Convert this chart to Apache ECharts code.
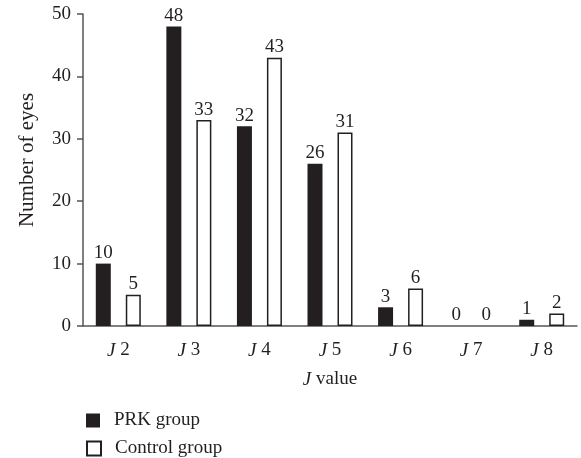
<!DOCTYPE html>
<html>
<head>
<meta charset="utf-8">
<script src="https://cdn.jsdelivr.net/npm/echarts@6/dist/echarts.min.js"></script>
<style>html,body{margin:0;padding:0;background:#fff}#c{width:581px;height:458px}</style>
</head>
<body>
<div id="c"></div>
<script>
var categories = ['2', '3', '4', '5', '6', '7', '8'];
var prkValues = [10, 48, 32, 26, 3, 0, 1];
var controlValues = [5, 33, 43, 31, 6, 0, 2];
var yTicks = [0, 10, 20, 30, 40, 50];

var FONT = '"Liberation Serif", "DejaVu Serif", serif';
var INK = '#231f20';
var FS = 19;
function items(arr) {
  return arr.map(function (v) {
    return v === 0 ? {value: v, itemStyle: {borderWidth: 0, color: 'rgba(0,0,0,0)'}} : v;
  });
}
function legendFor(name, top) {
  return {
    orient: 'vertical', left: 86, top: top, padding: 0, itemWidth: 14, itemHeight: 14,
    icon: 'rect',
    textStyle: {fontFamily: FONT, fontSize: FS, color: INK, padding: [0, 0, 0, 9]},
    data: [name]
  };
}
var chart = echarts.init(document.getElementById('c'), null, {renderer: 'canvas'});
chart.setOption({
  animation: false,
  textStyle: {fontFamily: FONT, color: INK},
  grid: {left: 83, right: 4, top: 14, bottom: 132, containLabel: false},
  legend: [legendFor('PRK group', 411), legendFor('Control group', 439)],
  xAxis: {
    type: 'category', data: categories,
    axisLine: {lineStyle: {color: '#555', width: 1.5}},
    axisTick: {alignWithLabel: true, length: 6, lineStyle: {color: '#555', width: 1.5}},
    axisLabel: {
      margin: 15, fontFamily: FONT, fontSize: FS, color: INK,
      formatter: function (v) { return '{i|J} ' + v; },
      rich: {i: {fontStyle: 'italic', fontFamily: FONT, fontSize: FS, color: INK}}
    },
    name: '{i|J} value', nameLocation: 'middle', nameGap: 44,
    nameTextStyle: {fontFamily: FONT, fontSize: FS, color: INK,
      rich: {i: {fontStyle: 'italic', fontFamily: FONT, fontSize: FS, color: INK}}}
  },
  yAxis: {
    type: 'value', min: 0, max: 50, interval: 10,
    axisLine: {show: true, lineStyle: {color: '#555', width: 1.5}},
    axisTick: {show: true, length: 6, lineStyle: {color: '#555', width: 1.5}},
    splitLine: {show: false},
    axisLabel: {margin: 12, fontFamily: FONT, fontSize: FS, color: INK,
      formatter: function (v) { return yTicks.indexOf(v) >= 0 ? String(v) : ''; }},
    name: 'Number of eyes', nameLocation: 'middle', nameGap: 45, nameRotate: 90,
    nameTextStyle: {fontFamily: FONT, fontSize: 21, color: INK, padding: [0, 0, 0, 20]}
  },
  series: [
    {
      name: 'PRK group', type: 'bar', data: items(prkValues), barWidth: 15, barGap: '100%',
      itemStyle: {color: INK},
      label: {show: true, position: 'top', distance: 1, fontFamily: FONT, fontSize: FS, color: INK}
    },
    {
      name: 'Control group', type: 'bar', data: items(controlValues), barWidth: 15,
      itemStyle: {color: '#fff', borderColor: INK, borderWidth: 1.5},
      label: {show: true, position: 'top', distance: 1, fontFamily: FONT, fontSize: FS, color: INK}
    }
  ]
});
</script>
</body>
</html>
